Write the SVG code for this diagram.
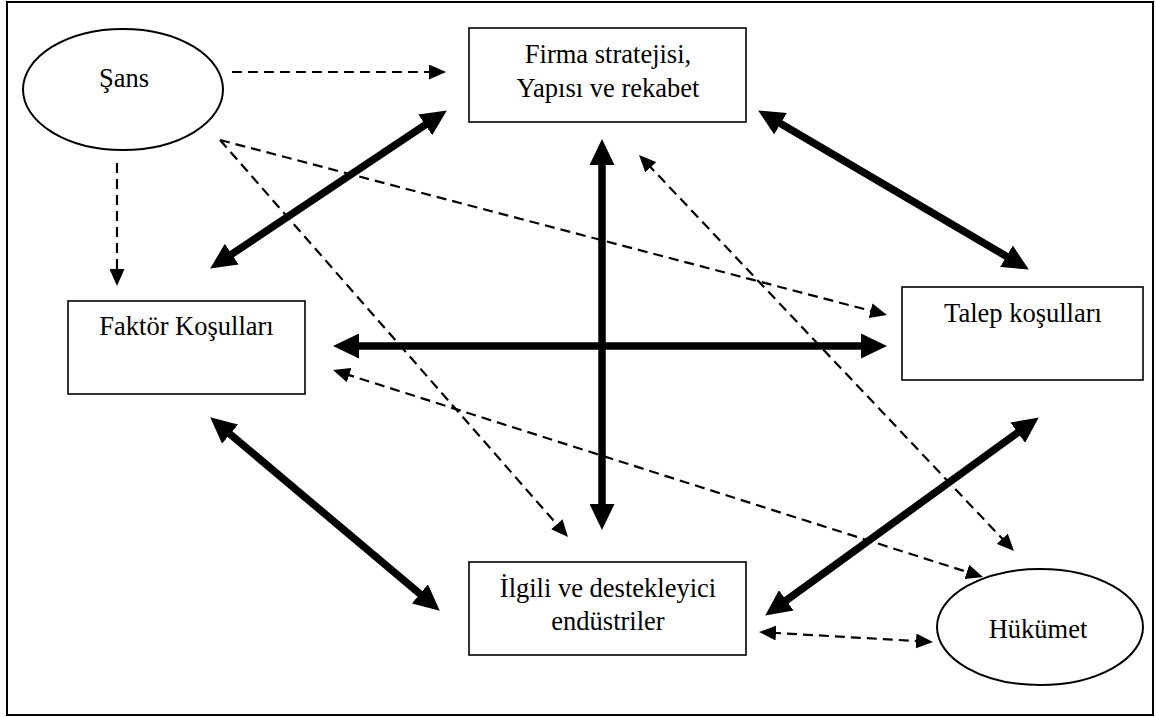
<svg xmlns="http://www.w3.org/2000/svg" width="1156" height="717" viewBox="0 0 1156 717">
<style>
.box{fill:#fff;stroke:#000;stroke-width:1.6}
.ell{fill:#fff;stroke:#000;stroke-width:2}
.lbl{font-family:"Liberation Serif","Times New Roman",serif;font-size:26.5px;fill:#000;text-anchor:middle}
.thick{stroke:#000;stroke-width:7.5;fill:none;marker-start:url(#bigA);marker-end:url(#bigA)}
.dash{stroke:#000;stroke-width:2.2;fill:none;stroke-dasharray:10 6}
.d1{marker-end:url(#smA)}
.d2{marker-start:url(#smA);marker-end:url(#smA)}
</style>
<defs>
<marker id="bigA" markerUnits="userSpaceOnUse" markerWidth="26" markerHeight="25" viewBox="0 0 26 25" refX="9" refY="12.5" orient="auto-start-reverse">
<path d="M0,0 L26,12.5 L0,25 z" fill="#000"/>
</marker>
<marker id="smA" markerUnits="userSpaceOnUse" markerWidth="17" markerHeight="15" viewBox="0 0 17 15" refX="5" refY="7.5" orient="auto-start-reverse">
<path d="M0,0 L17,7.5 L0,15 z" fill="#000"/>
</marker>
</defs>
<rect x="0" y="0" width="1156" height="717" fill="#fff"/>
<rect x="7" y="2" width="1146" height="713" fill="none" stroke="#000" stroke-width="2"/>

<g id="connectors">
<line class="thick" x1="432.7" y1="119.9" x2="224.3" y2="259.1"/>
<line class="thick" x1="772.8" y1="119.1" x2="1014.2" y2="260.9"/>
<line class="thick" x1="602" y1="156" x2="602" y2="513"/>
<line class="thick" x1="350" y1="346" x2="870" y2="346"/>
<line class="thick" x1="223.2" y1="428.3" x2="426.8" y2="599.7"/>
<line class="thick" x1="1025" y1="427.4" x2="779" y2="605.6"/>
<line class="dash d1" x1="232" y1="72" x2="434" y2="72"/>
<line class="dash d1" x1="117" y1="163" x2="117" y2="274"/>
<line class="dash d1" x1="220" y1="140" x2="875.4" y2="312"/>
<line class="dash d1" x1="220" y1="140" x2="560.1" y2="528"/>
<line class="dash d2" x1="647.3" y1="163.7" x2="1005.7" y2="542.3"/>
<line class="dash d2" x1="344.4" y1="373.6" x2="971.6" y2="573.4"/>
<line class="dash d2" x1="771" y1="632.7" x2="921" y2="641.3"/>
</g>

<g id="sans">
<ellipse class="ell" cx="123" cy="89.5" rx="100" ry="60.5"/>
<text class="lbl" x="124" y="87">Şans</text>
</g>
<g id="firma">
<rect class="box" x="469" y="28" width="277" height="94"/>
<text class="lbl" x="608" y="63">Firma stratejisi,</text>
<text class="lbl" x="608" y="97">Yapısı ve rekabet</text>
</g>
<g id="faktor">
<rect class="box" x="68" y="301" width="237" height="93"/>
<text class="lbl" x="186.5" y="335">Faktör Koşulları</text>
</g>
<g id="talep">
<rect class="box" x="902" y="287" width="241" height="93"/>
<text class="lbl" x="1023" y="322">Talep koşulları</text>
</g>
<g id="ilgili">
<rect class="box" x="469" y="562" width="277" height="93"/>
<text class="lbl" x="608" y="597">İlgili ve destekleyici</text>
<text class="lbl" x="608" y="630">endüstriler</text>
</g>
<g id="hukumet">
<ellipse class="ell" cx="1040" cy="627" rx="103" ry="58"/>
<text class="lbl" x="1038" y="638">Hükümet</text>
</g>
</svg>
